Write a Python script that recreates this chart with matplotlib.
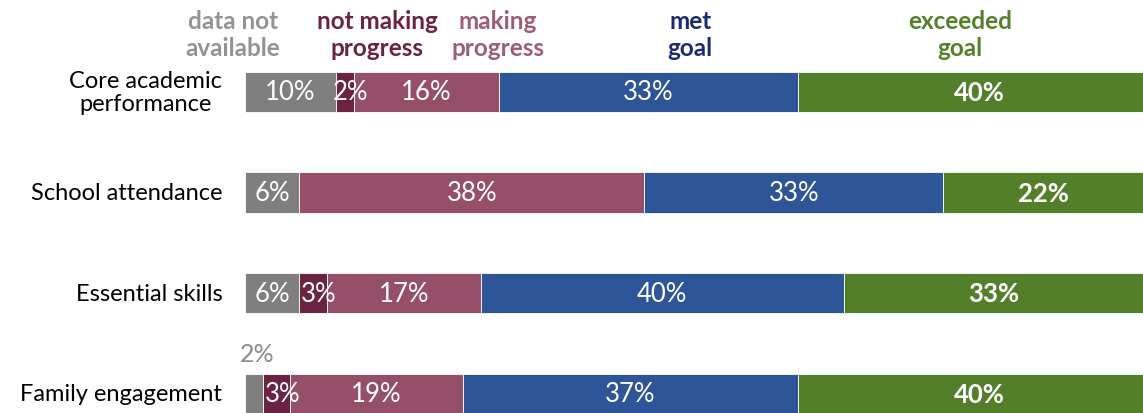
import matplotlib
matplotlib.use("Agg")
import matplotlib.pyplot as plt
import numpy as np

plt.rcParams['font.family'] = ['Lato', 'DejaVu Sans']

# share of students per outcome area
categories = ["Core academic\nperformance", "School attendance", "Essential skills", "Family engagement"]
status = ["data not\navailable", "not making\nprogress", "making\nprogress", "met\ngoal", "exceeded\ngoal"]
no_data = [10, 6, 6, 2]
not_making = [2, 0, 3, 3]
making = [16, 38, 17, 19]
met_goal = [33, 33, 40, 37]
exceeded = [40, 22, 33, 40]

bar_colors = ["#7f7f7f", "#6b2342", "#964f68", "#2e5597", "#547f2a"]
head_colors = ["#939393", "#6b2342", "#9e5d77", "#1b2c6e", "#548029"]

series = [no_data, not_making, making, met_goal, exceeded]

fig = plt.figure(figsize=(11.43, 4.14), dpi=100)
ax = fig.add_axes([245 / 1143, 0, 898 / 1143, 1])

y = np.arange(len(categories))
left = np.zeros(len(categories))
for k, vals in enumerate(series):
    vals = np.array(vals, dtype=float)
    ax.barh(y, vals, left=left, height=0.4, color=bar_colors[k],
            edgecolor="white", linewidth=0.6)
    for i, v in enumerate(vals):
        if v == 0:
            continue
        cx = left[i] + v / 2
        if k == 0 and v < 2.5:
            # sliver too thin for a label inside, put it above the bar
            ax.text(cx + 0.3, y[i] - 0.4, f"{v:.0f}%", ha="center", va="center",
                    fontsize=18, color="#8c8c8c")
            continue
        if v <= 3:
            cx += 0.6  # nudge narrow labels off the left edge
        ax.text(cx, y[i], f"{v:.0f}%", ha="center", va="center", fontsize=18.5,
                color="white", fontweight="bold" if k == 4 else "normal")
    left += vals

# column headers
head_x = [-1.3, 14.6, 27.9, 49.1, 78.8]
for k, lab in enumerate(status):
    ax.text(head_x[k], -0.575, lab, ha="center", va="center", fontsize=17.5,
            fontweight="bold", color=head_colors[k], linespacing=1.25, clip_on=False)

for i, lab in enumerate(categories):
    ax.text(-2.5, y[i], lab, ha="right", va="center", fontsize=17,
            multialignment="center", linespacing=1.1, clip_on=False)

ax.set_xlim(0, 99)
ax.set_ylim(3.19, -0.924)
ax.axis("off")

fig.savefig("out.png", dpi=100)
